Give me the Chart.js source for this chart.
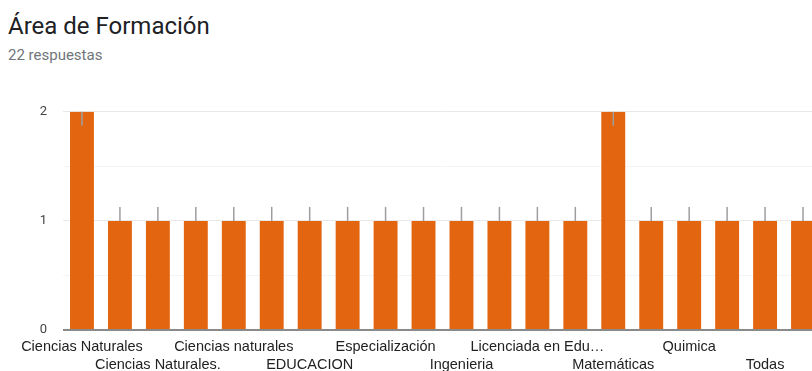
<!DOCTYPE html>
<html lang="es">
<head>
<meta charset="utf-8">
<title>Área de Formación</title>
<script src="https://cdn.jsdelivr.net/npm/chart.js@4.4.1/dist/chart.umd.min.js"></script>
<style>
  html, body { margin: 0; padding: 0; background: #fff; overflow: hidden; }
  body { width: 812px; height: 371px; position: relative; }
  .titulo { position: absolute; left: 8px; top: 12px; font: 400 24px Roboto, Arial, sans-serif; color: #202124; white-space: nowrap; }
  .subtitulo { position: absolute; left: 8px; top: 46px; font: 400 15px Roboto, Arial, sans-serif; color: #70757a; white-space: nowrap; }
  .grafico { position: absolute; left: 0; top: 88px; width: 832px; height: 286px; }
</style>
</head>
<body>
<div class="titulo">Área de Formación</div>
<div class="subtitulo">22 respuestas</div>
<div class="grafico"><canvas id="areaChart"></canvas></div>

<script>
// Respuestas agrupadas (orden alfabético como en el formulario)
const categorias = [
  'Ciencias Naturales', 'Ciencias Naturales y Educación Ambiental', 'Ciencias Naturales.',
  'Ciencias Sociales', 'Ciencias naturales', 'Docencia', 'EDUCACION', 'Educación',
  'Especialización', 'Física', 'Ingenieria', 'Lenguaje', 'Licenciada en Educación Básica',
  'Licenciatura en Biología', 'Matemáticas', 'Pedagogía', 'Quimica', 'Química y Biología',
  'Todas', 'Todas las áreas'
];
const conteos = [2, 1, 1, 1, 1, 1, 1, 1, 1, 1, 1, 1, 1, 1, 2, 1, 1, 1, 1, 1];
const marcasY = [0, 1, 2];

const NARANJA = '#e3650f';

// rayita gris en el tope de cada barra (hacia arriba, o hacia adentro si es la máxima)
const marcaTope = {
  id: 'marcaTope',
  afterDatasetsDraw(chart) {
    const { ctx } = chart;
    const meta = chart.getDatasetMeta(0);
    const maxVal = Math.max(...conteos);
    ctx.save();
    ctx.strokeStyle = '#9e9e9e';
    ctx.lineWidth = 1.5;
    meta.data.forEach((bar, i) => {
      const dir = conteos[i] >= maxVal ? 1 : -1;
      ctx.beginPath();
      ctx.moveTo(bar.x, bar.y);
      ctx.lineTo(bar.x, bar.y + dir * 14);
      ctx.stroke();
    });
    ctx.restore();
  }
};

function etiquetaCorta(txt) {
  return txt.length > 20 ? txt.slice(0, 17) + '…' : txt;
}

new Chart(document.getElementById('areaChart'), {
  type: 'bar',
  data: {
    labels: categorias,
    datasets: [{
      data: conteos,
      backgroundColor: NARANJA,
      borderWidth: 0,
      barPercentage: 0.63,
      categoryPercentage: 1
    }]
  },
  options: {
    responsive: true,
    maintainAspectRatio: false,
    animation: false,
    layout: { padding: { left: 0, right: 10, top: 10, bottom: 0 } },
    plugins: { legend: { display: false }, tooltip: { enabled: false } },
    scales: {
      x: {
        grid: { display: false },
        border: { display: false },
        ticks: {
          autoSkip: false,
          maxRotation: 0,
          minRotation: 0,
          padding: 0,
          color: '#222',
          font: { family: '"Liberation Sans", Arial, sans-serif', size: 14.5, lineHeight: 1.24 },
          // etiquetas alternadas en dos filas, una de cada dos categorías
          callback(value, index) {
            if (index % 2 === 1) return null;
            const txt = etiquetaCorta(categorias[index]);
            return index % 4 === 0 ? txt : ['', txt];
          }
        }
      },
      y: {
        min: marcasY[0],
        max: marcasY[marcasY.length - 1],
        border: { display: false },
        afterFit(scale) { scale.width = 63; },
        grid: {
          drawTicks: false,
          color: c => c.tick.value === 0 ? '#8a8a8a' : (Number.isInteger(c.tick.value) ? '#e8e8e8' : '#f4f4f4'),
          lineWidth: c => c.tick.value === 0 ? 2 : 1
        },
        ticks: {
          stepSize: 0.5,
          padding: 16,
          color: '#444',
          font: { family: 'Roboto, Arial, sans-serif', size: 13 },
          callback: v => marcasY.includes(v) ? String(v) : ''
        }
      }
    }
  },
  plugins: [marcaTope]
});
</script>
</body>
</html>
